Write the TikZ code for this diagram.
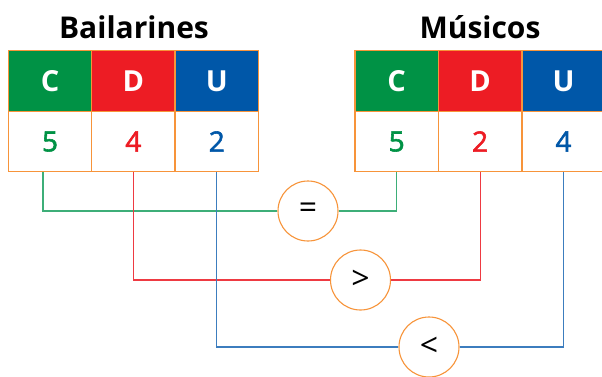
\documentclass[tikz,border=0pt]{standalone}
\usepackage{fontspec}
\setmainfont{Open Sans}
\newfontfamily\numfont[FakeBold=2]{Open Sans}
\definecolor{cgreen}{HTML}{009245}
\definecolor{cred}{HTML}{ED1C24}
\definecolor{cblue}{HTML}{0057A8}
\definecolor{corange}{HTML}{F7943A}
\definecolor{lgreen}{HTML}{3DAE78}
\definecolor{lred}{HTML}{EE3A42}
\definecolor{lblue}{HTML}{3C7DBE}
\begin{document}
\begin{tikzpicture}[x=1pt,y=-1pt,
  cell/.style={draw=corange,line width=1.4pt,minimum width=83.4pt,minimum height=60.5pt,inner sep=0pt},
  head/.style={cell,text=white,font=\bfseries\fontsize{29}{31}\selectfont},
  num/.style={cell,fill=white,font=\numfont\fontsize{28}{30}\selectfont},
  title/.style={font=\bfseries\fontsize{30}{34}\selectfont,inner sep=0pt},
  cmp/.style={circle,draw=corange,line width=1.1pt,minimum size=60pt,inner sep=0pt,fill=white,font=\fontsize{32}{34}\selectfont},
  conn/.style={line width=1.1pt}]
\useasboundingbox (0,0) rectangle (602,376);
% titles
\node[title] (t1) at (134,27) {Bailarines};
\node[title] (t2) at (480,27) {Músicos};
\coordinate (eqp) at (308,211);
\coordinate (gtp) at (360.5,280);
\coordinate (ltp) at (429,347);
% left table
\node[head,fill=cgreen] (lC) at (50,81) {C};
\node[head,fill=cred] (lD) at (133.4,81) {D};
\node[head,fill=cblue] (lU) at (216.8,81) {U};
\node[num,text=cgreen] (l5) at (50,141.5) {5};
\node[num,text=cred] (l4) at (133.4,141.5) {4};
\node[num,text=cblue] (l2) at (216.8,141.5) {2};
% right table
\node[head,fill=cgreen] (rC) at (396.7,81) {C};
\node[head,fill=cred] (rD) at (480.1,81) {D};
\node[head,fill=cblue] (rU) at (563.5,81) {U};
\node[num,text=cgreen] (r5) at (396.7,141.5) {5};
\node[num,text=cred] (r2) at (480.1,141.5) {2};
\node[num,text=cblue] (r4) at (563.5,141.5) {4};
% circles
\node[cmp] (eq) at (eqp) {=};
\node[cmp] (gt) at (gtp) {>};
\node[cmp] (lt) at (ltp) {<};
\coordinate (g0) at ([xshift=-7pt,yshift=0.7pt]l5.south);
% connectors
\draw[conn,lgreen] (g0) |- (eq.west);
\draw[conn,lgreen] (eq.east) -| ([yshift=0.7pt]r5.south);
\draw[conn,lred] ([yshift=0.7pt]l4.south) |- (gt.west);
\draw[conn,lred] (gt.east) -| ([yshift=0.7pt]r2.south);
\draw[conn,lblue] ([yshift=0.7pt]l2.south) |- (lt.west);
\draw[conn,lblue] (lt.east) -| ([yshift=0.7pt]r4.south);
\end{tikzpicture}
\end{document}
